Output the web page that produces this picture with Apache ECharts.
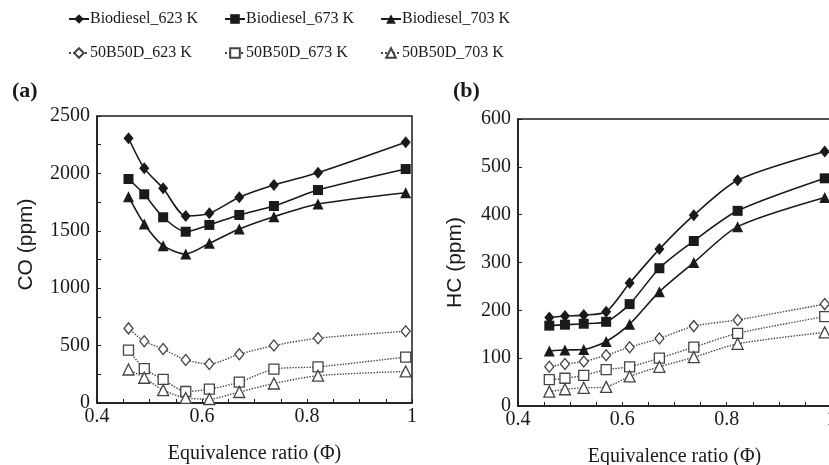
<!DOCTYPE html>
<html>
<head>
<meta charset="utf-8">
<script src="https://cdn.jsdelivr.net/npm/echarts@6/dist/echarts.min.js"></script>
<style>
  html, body { margin: 0; padding: 0; background: #fff; }
  #chart { width: 829px; height: 465px; }
</style>
</head>
<body>
<div id="chart"></div>
<script>
// Equivalence ratio values (shared by both panels)
const phi = [0.46, 0.49, 0.526, 0.569, 0.614, 0.671, 0.737, 0.821, 0.988];

const seriesNames = ['Biodiesel_623 K', 'Biodiesel_673 K', 'Biodiesel_703 K',
                     '50B50D_623 K', '50B50D_673 K', '50B50D_703 K'];

// (a) CO (ppm)
const coBio623 = [2306, 2044, 1870, 1629, 1652, 1792, 1899, 2006, 2271];
const coBio673 = [1951, 1818, 1618, 1492, 1551, 1638, 1716, 1855, 2038];
const coBio703 = [1797, 1559, 1370, 1298, 1391, 1516, 1623, 1733, 1832];
const coB50623 = [650, 538, 470, 375, 340, 425, 500, 565, 625];
const coB50673 = [460, 300, 205, 100, 120, 182, 295, 315, 400];
const coB50703 = [292, 220, 112, 44, 35, 96, 170, 238, 275];

// (b) HC (ppm)
const hcBio623 = [185, 188, 190, 197, 257, 328, 399, 472, 532];
const hcBio673 = [168, 170, 172, 176, 213, 288, 345, 408, 476];
const hcBio703 = [115, 117, 118, 135, 171, 239, 300, 375, 436];
const hcB50623 = [82, 88, 93, 106, 123, 141, 167, 180, 213];
const hcB50673 = [55, 58, 64, 76, 82, 100, 123, 152, 187];
const hcB50703 = [30, 35, 38, 40, 62, 82, 102, 130, 154];

const coSets = [coBio623, coBio673, coBio703, coB50623, coB50673, coB50703];
const hcSets = [hcBio623, hcBio673, hcBio703, hcB50623, hcB50673, hcB50703];

const SERIF = '"Liberation Serif", "Times New Roman", serif';
const SANS = '"Liberation Sans", Arial, sans-serif';
const INK = '#1a1a1a';

// marker look per series
const looks = [
  { symbol: 'diamond', size: [10, 12], open: false },
  { symbol: 'rect', size: 10, open: false },
  { symbol: 'triangle', size: 11, open: false },
  { symbol: 'diamond', size: [9, 11], open: true },
  { symbol: 'rect', size: 10, open: true },
  { symbol: 'triangle', size: 11, open: true }
];

function makeSeries(sets, gi){
  return sets.map((vals, i) => {
    const lk = looks[i];
    return {
      name: seriesNames[i],
      type: 'line',
      xAxisIndex: gi,
      yAxisIndex: gi,
      data: vals.map((v, k) => [phi[k], v]),
      symbol: lk.symbol,
      symbolSize: lk.size,
      showAllSymbol: true,
      smooth: 0.25,
      lineStyle: lk.open
        ? { color: '#444', width: 1.4, type: 'dotted' }
        : { color: INK, width: 1.6, type: 'solid' },
      itemStyle: lk.open
        ? { color: '#fff', borderColor: '#444', borderWidth: 1.3 }
        : { color: INK, borderColor: INK, borderWidth: 0 },
      z: lk.open ? 2 : 3,
      animation: false
    };
  });
}

function xAxisFor(gi){
  return {
    type: 'value',
    gridIndex: gi,
    min: 0.4, max: 1, interval: 0.05,
    axisLine: { show: true, onZero: false, lineStyle: { color: INK, width: 1.5 } },
    axisTick: { show: true, inside: true, length: 4, lineStyle: { color: INK } },
    splitLine: { show: false },
    axisLabel: {
      margin: 4,
      fontFamily: SERIF, fontSize: 20, color: INK,
      formatter: v => {
        const k = v * 5;
        if (Math.abs(k - Math.round(k)) > 1e-6) return '';
        return Math.abs(v - 1) < 1e-6 ? '1' : v.toFixed(1);
      }
    },
    name: 'Equivalence ratio (Φ)',
    nameLocation: 'middle',
    nameGap: 41,
    nameTextStyle: { fontFamily: SERIF, fontSize: 20, color: INK }
  };
}

const legends = seriesNames.map((n, i) => ({
  data: [n],
  left: [68, 224, 380][i % 3],
  top: i < 3 ? 11 : 45,
  padding: 0,
  itemWidth: 20,
  itemHeight: 12,
  itemGap: 2,
  selectedMode: false,
  textStyle: { fontFamily: SERIF, fontSize: 16, color: INK, padding: [0, 0, 0, -4] }
}));

const chart = echarts.init(document.getElementById('chart'), null, { renderer: 'canvas' });
chart.setOption({
  backgroundColor: '#fff',
  animation: false,
  legend: legends,
  grid: [
    { left: 97, top: 116, right: 417, bottom: 62, outerBoundsMode: 'none', containLabel: false,
      show: true, borderColor: INK, borderWidth: 1.5, backgroundColor: 'transparent' },
    { left: 518, top: 119, right: -2, bottom: 59, outerBoundsMode: 'none', containLabel: false,
      show: true, borderColor: INK, borderWidth: 1.5, backgroundColor: 'transparent' }
  ],
  xAxis: [xAxisFor(0), xAxisFor(1)],
  yAxis: [
    {
      type: 'value', gridIndex: 0,
      min: 0, max: 2500, interval: 250,
      axisLine: { show: true, lineStyle: { color: INK, width: 1.5 } },
      axisTick: { show: true, inside: true, length: 4, lineStyle: { color: INK } },
      splitLine: { show: false },
      axisLabel: {
        margin: 7, fontFamily: SERIF, fontSize: 20, color: INK,
        formatter: v => (v % 500 === 0 ? String(v) : '')
      },
      name: 'CO (ppm)',
      nameLocation: 'middle',
      nameGap: 60,
      nameTextStyle: { fontFamily: SANS, fontSize: 21, color: INK, padding: [0, 0, 0, 30] }
    },
    {
      type: 'value', gridIndex: 1,
      min: 0, max: 600, interval: 100,
      axisLine: { show: true, lineStyle: { color: INK, width: 1.5 } },
      axisTick: { show: true, inside: true, length: 4, lineStyle: { color: INK } },
      splitLine: { show: false },
      axisLabel: { margin: 7, fontFamily: SERIF, fontSize: 20, color: INK },
      name: 'HC (ppm)',
      nameLocation: 'middle',
      nameGap: 52,
      nameTextStyle: { fontFamily: SANS, fontSize: 21, color: INK }
    }
  ],
  graphic: [
    { type: 'text', left: 12, top: 80, style: { text: '(a)', font: 'bold 22px ' + SERIF, fill: INK } },
    { type: 'text', left: 453, top: 80, style: { text: '(b)', font: 'bold 22px ' + SERIF, fill: INK } }
  ],
  series: [...makeSeries(coSets, 0), ...makeSeries(hcSets, 1)]
});
</script>
</body>
</html>
